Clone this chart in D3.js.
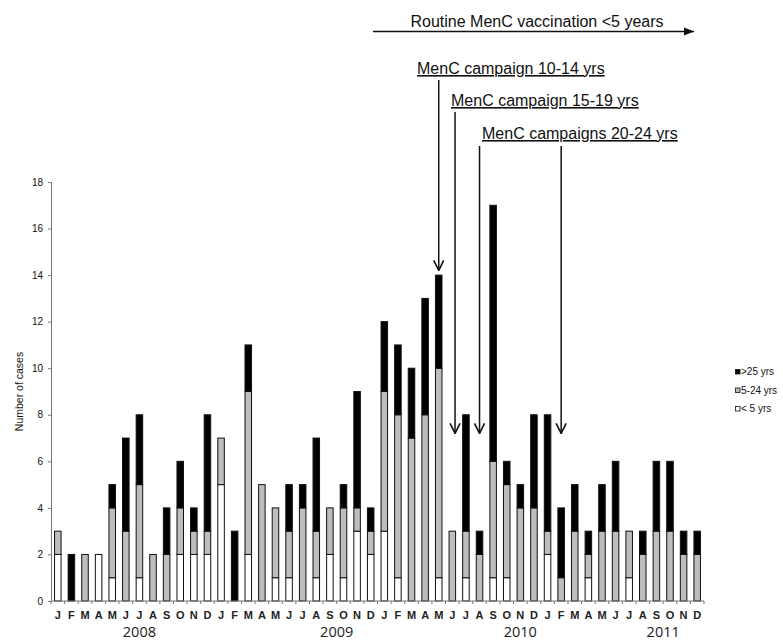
<!DOCTYPE html>
<html>
<head>
<meta charset="utf-8">
<script src="https://cdn.jsdelivr.net/npm/d3@7"></script>
<style>
  body { margin: 0; background: #fff; }
  text { font-family: "Liberation Sans", Arial, sans-serif; }
</style>
</head>
<body>
<div id="graph"></div>
<script>
// month labels, 4 years
const monthLetters = ["J","F","M","A","M","J","J","A","S","O","N","D"];
const months = d3.range(48).map(i => monthLetters[i % 12]);
const years = ["2008", "2009", "2010", "2011"];
const yearPos = [6.5, 21, 34.5, 45]; // where the labels sit, in month units

// cases per month, by age group
const under5 = [2,0,0,2,1,0,1,0,0,2,2,2, 5,0,2,0,1,1,0,1,2,1,3,2,
                3,1,0,0,1,0,1,0,1,1,0,0, 2,0,0,1,0,0,1,0,0,0,0,0];
const age5to24 = [1,0,2,0,3,3,4,2,2,2,1,1, 2,0,7,5,3,2,4,2,2,3,1,1,
                  6,7,7,8,9,3,2,2,5,4,4,4, 1,1,3,1,3,3,2,2,3,3,2,2];
const over25 = [0,2,0,0,1,4,3,0,2,2,1,5, 0,3,2,0,0,2,1,4,0,1,5,1,
                3,3,3,5,4,0,5,1,11,1,1,4, 5,3,2,1,2,3,0,1,3,3,1,1];

const seriesKeys = ["u5", "a524", "o25"];
const seriesNames = ["< 5 yrs", "5-24 yrs", ">25 yrs"];
const yTicks = [0, 2, 4, 6, 8, 10, 12, 14, 16, 18];

// campaign annotations: month index the arrows point at, label
const campaigns = [
  {label: "MenC campaign 10-14 yrs", arrows: [28], lineTop: 80, tipVal: 14.2},
  {label: "MenC campaign 15-19 yrs", arrows: [29.2], lineTop: 112, tipVal: 7.2},
  {label: "MenC campaigns 20-24 yrs", arrows: [31, 37], lineTop: 146, tipVal: 7.2}
];

const W = 783, H = 642;
const colors = {u5: "#ffffff", a524: "#bdbdbd", o25: "#000000"};

const data = months.map((m, i) => ({i: i, u5: under5[i], a524: age5to24[i], o25: over25[i]}));

const x = d3.scaleBand()
    .domain(d3.range(48))
    .range([51, 704])
    .paddingInner(0.52)
    .paddingOuter(0.26);
const y = d3.scaleLinear()
    .domain([0, 18])
    .range([601, 182]);

const xc = v => 51 + (v + 0.5) * (653 / 48);

const svg = d3.select("#graph")
    .append("svg")
    .attr("width", W)
    .attr("height", H);

const defs = svg.append("defs");
defs.append("marker")
    .attr("id", "vee")
    .attr("viewBox", "0 0 12 12")
    .attr("refX", 11).attr("refY", 6)
    .attr("markerWidth", 12).attr("markerHeight", 12)
    .attr("markerUnits", "userSpaceOnUse")
    .attr("orient", "auto")
    .append("path")
    .attr("d", "M1,1 L11,6 L1,11")
    .attr("fill", "none")
    .attr("stroke", "#111")
    .attr("stroke-width", 1.6);
defs.append("marker")
    .attr("id", "tri")
    .attr("viewBox", "0 0 10 10")
    .attr("refX", 10).attr("refY", 5)
    .attr("markerWidth", 10).attr("markerHeight", 10)
    .attr("markerUnits", "userSpaceOnUse")
    .attr("orient", "auto")
    .append("path")
    .attr("d", "M0,1 L10,5 L0,9 Z")
    .attr("fill", "#111");

// stacked bars
const stack = d3.stack().keys(seriesKeys)(data);
svg.append("g")
  .selectAll("g")
  .data(stack)
  .join("g")
    .attr("fill", d => colors[d.key])
  .selectAll("rect")
  .data(d => d.filter(s => s[1] > s[0]))
  .join("rect")
    .attr("x", d => x(d.data.i))
    .attr("width", x.bandwidth())
    .attr("y", d => y(d[1]))
    .attr("height", d => y(d[0]) - y(d[1]))
    .attr("stroke", "#111")
    .attr("stroke-width", 1);

// y axis
const yAxis = svg.append("g")
    .attr("transform", "translate(51,0)")
    .call(d3.axisLeft(y).tickValues(yTicks).tickSize(3).tickPadding(5));
yAxis.select(".domain").attr("stroke", "#777");
yAxis.selectAll(".tick line").attr("stroke", "#777");
yAxis.selectAll("text").attr("font-size", 10).attr("fill", "#111")
    .style("font-family", "Liberation Sans, Arial, sans-serif");

// x axis, ticks between the bars
const xb = d3.scaleLinear().domain([0, 48]).range([51, 704]);
const xAxis = svg.append("g")
    .attr("transform", "translate(0,601)");
xAxis.append("line")
    .attr("x1", 51).attr("x2", 704)
    .attr("stroke", "#777");
xAxis.selectAll(".tk")
  .data(d3.range(49))
  .join("line")
    .attr("x1", d => xb(d)).attr("x2", d => xb(d))
    .attr("y1", 0).attr("y2", 3)
    .attr("stroke", "#777");
xAxis.selectAll(".ml")
  .data(months)
  .join("text")
    .attr("x", (d, i) => x(i) + x.bandwidth() / 2)
    .attr("y", 17.5)
    .attr("text-anchor", "middle")
    .attr("font-size", 11)
    .attr("font-weight", "bold")
    .attr("fill", "#222")
    .text(d => d);
xAxis.selectAll(".yl")
  .data(years)
  .join("text")
    .attr("x", (d, i) => xb(yearPos[i]))
    .attr("y", 36)
    .attr("text-anchor", "middle")
    .attr("font-size", 14.5)
    .attr("fill", "#222")
    .style("font-family", "'Open Sans', sans-serif")
    .text(d => d);

svg.append("text")
    .attr("transform", "translate(23," + y(9) + ") rotate(-90)")
    .attr("text-anchor", "middle")
    .attr("font-size", 10.5)
    .attr("fill", "#111")
    .text("Number of cases");

// legend
const legend = svg.append("g");
const legendOrder = [2, 1, 0];
legendOrder.forEach((k, j) => {
  const g = legend.append("g").attr("transform", "translate(735," + (372 + j * 18.5) + ")");
  g.append("rect")
      .attr("x", 0.5).attr("y", -2.5)
      .attr("width", 4.5).attr("height", 4.5)
      .attr("fill", colors[seriesKeys[k]])
      .attr("stroke", "#111").attr("stroke-width", 0.8);
  g.append("text")
      .attr("x", 6).attr("y", 3)
      .attr("font-size", 10)
      .attr("fill", "#111")
      .text(seriesNames[k]);
});

// routine vaccination arrow
svg.append("text")
    .attr("x", 537).attr("y", 27)
    .attr("text-anchor", "middle")
    .attr("font-size", 16)
    .attr("fill", "#111")
    .text("Routine MenC vaccination <5 years");
svg.append("line")
    .attr("x1", 373).attr("x2", 694)
    .attr("y1", 31.5).attr("y2", 31.5)
    .attr("stroke", "#111").attr("stroke-width", 1.6)
    .attr("marker-end", "url(#tri)");

// campaign labels and arrows
const labelLeft = [417, 451, 482];
const labelBase = [74, 106, 139];
campaigns.forEach((c, j) => {
  svg.append("text")
      .attr("x", labelLeft[j]).attr("y", labelBase[j])
      .attr("font-size", 16)
      .attr("fill", "#111")
      .attr("text-decoration", "underline")
      .text(c.label);
  c.arrows.forEach(a => {
    svg.append("line")
        .attr("x1", xc(a)).attr("x2", xc(a))
        .attr("y1", c.lineTop).attr("y2", y(c.tipVal))
        .attr("stroke", "#111").attr("stroke-width", 1.5)
        .attr("marker-end", "url(#vee)");
  });
});
</script>
</body>
</html>
